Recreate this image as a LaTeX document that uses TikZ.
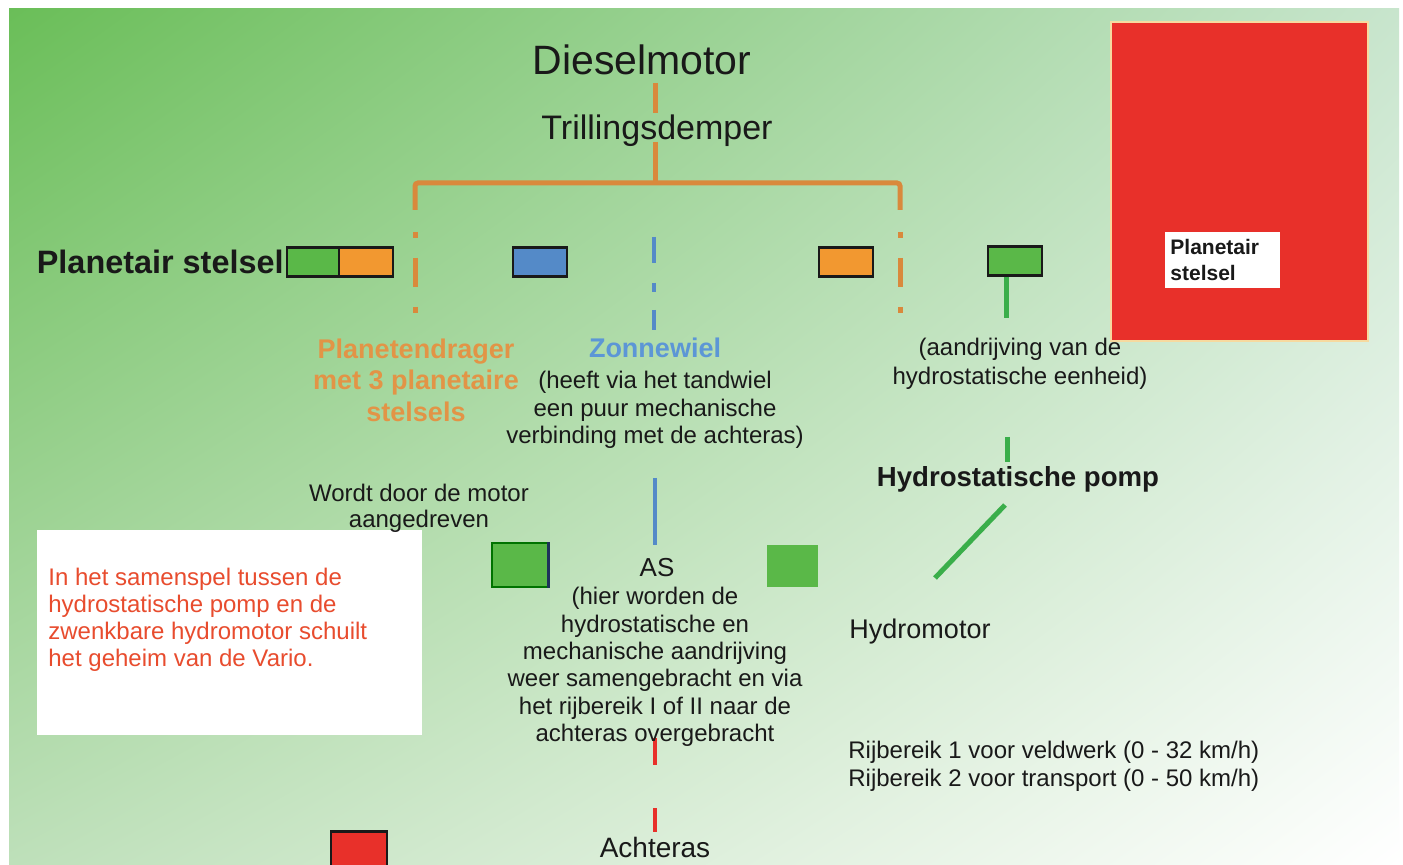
\documentclass[tikz,border=0pt]{standalone}
\usepackage{fontspec}
\setmainfont{Liberation Sans}
\usetikzlibrary{positioning,shadings}
\definecolor{carrierorange}{RGB}{217,137,60}
\definecolor{labelorange}{RGB}{226,148,70}
\definecolor{boxorange}{RGB}{242,152,48}
\definecolor{sunblue}{RGB}{84,138,200}
\definecolor{labelblue}{RGB}{92,150,214}
\definecolor{pumpgreen}{RGB}{90,184,72}
\definecolor{linegreen}{RGB}{58,174,74}
\definecolor{axlered}{RGB}{232,48,42}
\definecolor{notered}{RGB}{232,76,46}
\definecolor{inkblack}{RGB}{25,25,25}
\definecolor{cream}{RGB}{246,218,160}
\definecolor{shaftnavy}{RGB}{30,50,90}
\definecolor{bgtopleft}{RGB}{106,190,88}
\definecolor{bgtopright}{RGB}{200,229,205}
\definecolor{bgbottomleft}{RGB}{190,224,186}

\begin{document}
\begin{tikzpicture}[x=0.5pt,y=-0.5pt,
    gear/.style={draw=inkblack, line width=1.3pt, minimum width=27pt, minimum height=14.5pt, inner sep=0pt},
    lbl/.style={text=inkblack, align=center, font=\fontsize{12}{13.75}\selectfont},
    carrier/.style={carrierorange, line width=2.5pt},
    sunline/.style={sunblue, line width=2pt},
    pumpline/.style={linegreen, line width=2.5pt},
    axleline/.style={axlered, line width=2pt}]

    \useasboundingbox (0,0) rectangle (1403,865);
    \clip (0,0) rectangle (1403,865);
    \fill[white] (0,0) rectangle (1403,865);
    \shade[upper left=bgtopleft, upper right=bgtopright,
           lower left=bgbottomleft, lower right=white] (9,9) rectangle (1399,865);

    % big red block with its label
    \node (redblock) [fill=axlered, draw=cream, line width=1pt, anchor=north west,
        minimum width=128.5pt, minimum height=159.5pt] at (1110,21) {};
    \node (redlabel) [fill=white, anchor=north west, text width=52.5pt, minimum height=28pt,
        inner sep=2.5pt, align=left, text=inkblack,
        font=\bfseries\fontsize{10.5}{13}\selectfont] at (1165,232) {Planetair\\stelsel};

    % note box
    \node (notebox) [fill=white, anchor=north west, minimum width=192.5pt,
        minimum height=102.5pt] at (37,530) {};
    \node (notetext) [anchor=west, inner sep=0pt, align=left, text=notered,
        font=\fontsize{12}{13.5}\selectfont] at (48,620)
        {In het samenspel tussen de\\hydrostatische pomp en de\\zwenkbare hydromotor schuilt\\het geheim van de Vario.};

    % gear boxes
    \node (leftgreen) [gear, fill=pumpgreen] at (314,262) {};
    \node (leftorange) [gear, fill=boxorange] at (366,262) {};
    \node (sunbox) [gear, fill=sunblue] at (540,262) {};
    \node (rightorange) [gear, fill=boxorange] at (846,262) {};
    \node (pumpbox) [gear, fill=pumpgreen] at (1015,261) {};
    \node (hydrobox) [fill=pumpgreen, draw=black!55!green, line width=0.6pt,
        minimum width=28pt, minimum height=22pt] at (520,565) {};
    \draw[shaftnavy, line width=1.5pt] (hydrobox.north east) -- (hydrobox.south east);
    \node (motorbox) [fill=pumpgreen, minimum width=25.5pt, minimum height=21pt] at (792,566) {};
    \node (axlebox) [gear, fill=axlered, anchor=north, minimum width=28pt, minimum height=25pt] at (359,830) {};

    % connectors
    \coordinate (hub) at (655,183);
    \coordinate (dieselfoot) at (655,83);
    \coordinate (dampertop) at (655,113);
    \coordinate (damperfoot) at (655,142);
    \coordinate (carl) at (415,210);
    \coordinate (carr) at (900,210);
    \coordinate (carlfoot) at (415,315);
    \coordinate (carrfoot) at (900,315);
    \draw[carrier] (dieselfoot) -- (dampertop);
    \draw[carrier] (damperfoot) -- (hub);
    \draw[carrier, rounded corners=1.5pt] (carl) |- (hub) -| (carr);
    \draw[carrier, dash pattern=on 0pt off 11pt on 3pt off 10pt on 14.5pt off 10pt on 3pt off 50pt] (carl) -- (carlfoot);
    \draw[carrier, dash pattern=on 0pt off 11pt on 3pt off 10pt on 14.5pt off 10pt on 3pt off 50pt] (carr) -- (carrfoot);

    \coordinate (suntop) at (654,237);
    \coordinate (sunfoot) at (654,330);
    \draw[sunline, dash pattern=on 13pt off 10pt on 4.5pt off 9pt on 20pt] (suntop) -- (sunfoot);
    \coordinate (shaftin) at (655,478);
    \coordinate (shaftout) at (655,545);
    \draw[sunline] (shaftin) -- (shaftout);

    \coordinate (axletop) at (655,738);
    \coordinate (axlefoot) at (655,832);
    \draw[axleline, dash pattern=on 13.5pt off 21.5pt on 20pt] (axletop) -- (axlefoot);

    \coordinate (pumpdrop) at (1006,318);
    \draw[pumpline] (pumpdrop |- pumpbox.south) -- (pumpdrop);
    \coordinate (pumpin) at (1007,437);
    \coordinate (pumpinfoot) at (1007,462);
    \draw[pumpline] (pumpin) -- (pumpinfoot);
    \coordinate (pumpout) at (1005,505);
    \coordinate (motorend) at (935,578);
    \draw[pumpline] (pumpout) -- (motorend);

    % texts
    \node[lbl, anchor=base, font=\fontsize{20.5}{24}\selectfont] (diesel) at (642,75) {Dieselmotor};
    \node[lbl, anchor=base, font=\fontsize{17}{20}\selectfont] (damper) at (657,140) {Trillingsdemper};
    \node[lbl, anchor=base east, inner sep=0pt, font=\bfseries\fontsize{16.2}{19}\selectfont] (planetair) at (284,274) {Planetair stelsel};
    \node[lbl, text=labelorange, font=\bfseries\fontsize{13.5}{15.75}\selectfont] (carrierlbl) at (416,380) {Planetendrager\\met 3 planetaire\\stelsels};
    \node[lbl, anchor=base, text=labelblue, font=\bfseries\fontsize{13.5}{16}\selectfont] (sunlbl) at (655,358) {Zonnewiel};
    \node[lbl] (sunnote) at (655,410) {(heeft via het tandwiel\\een puur mechanische\\verbinding met de achteras)};
    \node[lbl, font=\fontsize{12}{14.5}\selectfont] (drivenote) at (1020,364) {(aandrijving van de\\hydrostatische eenheid)};
    \node[lbl, anchor=base, font=\bfseries\fontsize{13.8}{16}\selectfont] (pump) at (1018,487) {Hydrostatische pomp};
    \node[lbl, font=\fontsize{12}{13}\selectfont] (drivenby) at (419,508) {Wordt door de motor\\aangedreven};
    \node[lbl, anchor=base, font=\fontsize{13}{15}\selectfont] (as) at (657,577) {AS};
    \node[lbl, font=\fontsize{12}{13.7}\selectfont] (asnote) at (655,667)
        {(hier worden de\\hydrostatische en\\mechanische aandrijving\\weer samengebracht en via\\het rijbereik I of II naar de\\achteras overgebracht};
    \node[lbl, anchor=base, font=\fontsize{13.5}{16}\selectfont] (hydromotor) at (920,639) {Hydromotor};
    \node[lbl, anchor=west, inner sep=0pt, align=left, font=\fontsize{12}{14}\selectfont] (ranges) at (848,766)
        {Rijbereik 1 voor veldwerk (0 - 32 km/h)\\Rijbereik 2 voor transport (0 - 50 km/h)};
    \node[lbl, anchor=base, font=\fontsize{14}{16}\selectfont] (achteras) at (655,857) {Achteras};
\end{tikzpicture}
\end{document}
